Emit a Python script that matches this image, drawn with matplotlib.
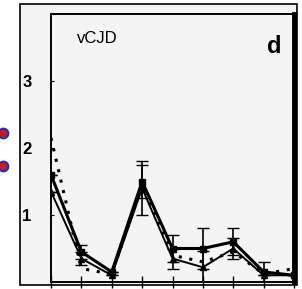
import matplotlib.pyplot as plt
from matplotlib.patches import Rectangle

# time points and three response curves
x = [0, 1, 2, 3, 4, 5, 6, 7, 8]
series_a = [1.6, 0.45, 0.15, 1.5, 0.5, 0.5, 0.6, 0.15, 0.1]
series_b = [1.35, 0.35, 0.1, 1.4, 0.35, 0.22, 0.5, 0.1, 0.1]
series_c = [2.15, 0.2, 0.12, 1.45, 0.4, 0.3, 0.45, 0.12, 0.2]
err_a = [0.0, 0.1, 0.0, 0.25, 0.2, 0.3, 0.2, 0.15, 0.0]
err_b = [0.0, 0.1, 0.0, 0.4, 0.15, 0.25, 0.15, 0.0, 0.0]
yticks = [1, 2, 3]
panel_title = 'vCJD'
panel_letter = 'd'

W, H = 302, 289
fig = plt.figure(figsize=(W / 100, H / 100), dpi=100)
fig.patch.set_facecolor('white')

# outer frame of the scanned panel
fig.patches.append(Rectangle((20 / W, 1 - 285 / H), 277 / W, 281 / H,
                             transform=fig.transFigure, facecolor='#f4f4f4',
                             edgecolor='black', linewidth=1.2, zorder=-5))

ax = fig.add_axes([51 / W, 1 - 282 / H, 243 / W, 268 / H])
ax.set_zorder(2)
ax.set_facecolor('#f4f4f4')

ax.errorbar(x, series_a, yerr=err_a, color='black', linewidth=2.2,
            marker='s', markersize=4, capsize=4, elinewidth=1.2, zorder=3)
ax.errorbar(x, series_b, yerr=err_b, color='black', linewidth=1.4,
            marker='^', markersize=4, capsize=4, elinewidth=1.2, zorder=3)
ax.plot(x, series_c, color='black', linewidth=2.2, linestyle=(0, (1, 2.5)),
        zorder=2)

ax.set_xlim(0, 8)
ax.set_ylim(0, 4.0)
ax.set_xticks(x)
ax.set_xticklabels([])
ax.tick_params(axis='x', direction='inout', length=8, width=1)
ax.set_yticks(yticks)
ax.set_yticklabels([str(t) for t in yticks], fontsize=12, fontweight='bold',
                   family='Liberation Sans')
ax.tick_params(axis='y', direction='in', length=2, pad=14)

ax.spines['left'].set_linewidth(1.4)
ax.spines['top'].set_linewidth(1.4)
ax.spines['bottom'].set_linewidth(1.4)
ax.spines['right'].set_linewidth(3.5)

ax.text(0.19, 0.91, panel_title, transform=ax.transAxes, fontsize=12,
        family='Liberation Sans', ha='center', va='center')
ax.text(0.92, 0.88, panel_letter, transform=ax.transAxes, fontsize=17,
        fontweight='bold', family='Liberation Sans', ha='center', va='center')

# the two coloured bullets at the left edge of the scan
fig.add_artist(plt.Line2D([3 / W, 3 / W], [1 - 133 / H, 1 - 166 / H],
                          linestyle='none', marker='o', markersize=7,
                          markerfacecolor='#d01818', markeredgecolor='#2030c0',
                          markeredgewidth=1.5, transform=fig.transFigure))

fig.savefig('out.png', dpi=100)
